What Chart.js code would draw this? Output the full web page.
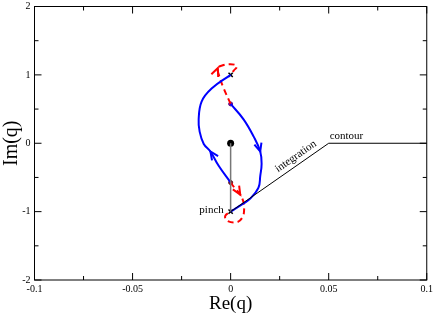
<!DOCTYPE html>
<html>
<head>
<meta charset="utf-8">
<script src="https://cdn.jsdelivr.net/npm/chart.js@4"></script>
<style>html,body{margin:0;padding:0;background:#fff}</style>
</head>
<body>
<canvas id="chart" width="436" height="315"></canvas>
<script>
// Integration contour in the complex q-plane
const contour_re = [0, 0.05, 0.1];
const contour_im = [-1, 0, 0];

// segment joining the origin and the pinch point
const stem_re = [0, 0];
const stem_im = [0, -1];

// blue trajectories (in the direction of travel)
const blueL_re = [0, -0.0061, -0.0103, -0.0137, -0.0158, -0.0163, -0.0148, -0.0097, 0];
const blueL_im = [-0.575, -0.33, -0.12, -0.01, 0.17, 0.35, 0.61, 0.80, 1.0];
const blueR_re = [0, 0.0066, 0.0117, 0.0151, 0.0158, 0.0151, 0.0142, 0.0100, 0.0066, 0];
const blueR_im = [0.575, 0.35, 0.10, -0.12, -0.30, -0.48, -0.65, -0.81, -0.88, -1.0];

// red dashed loops
const redU_re = [0, -0.0035, -0.006, -0.0065, -0.004, -0.0015, 0.002, 0.0032, 0.0015, 0];
const redU_im = [0.575, 0.80, 1.0, 1.10, 1.14, 1.155, 1.15, 1.12, 1.06, 1.0];
const redD_re = [0, 0.0025, 0.0049, 0.0066, 0.0069, 0.0061, 0.0031, -0.002, -0.0027, 0];
const redD_im = [-0.575, -0.67, -0.75, -0.865, -0.96, -1.08, -1.155, -1.13, -1.06, -1.0];

// arrow heads: point index on each curve
const arrow_at = {blueL: 2, blueR: 3, redU: 3, redD: 2};

// marked points
const dot_re = [0];
const dot_im = [0];
const small_re = [0, 0];
const small_im = [0.575, -0.575];
const cross_re = [0, 0];
const cross_im = [1, -1];

// text notes
const notes = ['pinch', 'integration', 'contour'];
const note_re = [-0.0035, 0.0356, 0.0505];
const note_im = [-1.0, -0.288, 0];

const xTicks = [-0.1, -0.05, 0, 0.05, 0.1];
const yTicks = [-2, -1, 0, 1, 2];

function pts(re, im) {
    return re.map((r, i) => ({x: r, y: im[i]}));
}

function curve(id, re, im, color, dash) {
    return {
        id: id,
        data: pts(re, im),
        showLine: true,
        borderColor: color,
        borderWidth: 2,
        borderDash: dash,
        tension: 0.4,
        pointRadius: 0,
        fill: false
    };
}

const serif = "'Liberation Serif', 'DejaVu Serif', serif";

// frame with inward major/minor ticks on all four sides
const framePlugin = {
    id: 'frame',
    afterDraw(chart) {
        const ctx = chart.ctx, a = chart.chartArea;
        const xs = chart.scales.x, ys = chart.scales.y;
        ctx.save();
        ctx.strokeStyle = '#000';
        ctx.lineWidth = 1;
        ctx.strokeRect(a.left, a.top, a.right - a.left, a.bottom - a.top);
        ctx.beginPath();
        xTicks.forEach((v, i) => {
            const px = xs.getPixelForValue(v);
            ctx.moveTo(px, a.bottom); ctx.lineTo(px, a.bottom - 7);
            ctx.moveTo(px, a.top); ctx.lineTo(px, a.top + 7);
            if (i < xTicks.length - 1) {
                const m = xs.getPixelForValue((v + xTicks[i + 1]) / 2);
                ctx.moveTo(m, a.bottom); ctx.lineTo(m, a.bottom - 4);
                ctx.moveTo(m, a.top); ctx.lineTo(m, a.top + 4);
            }
        });
        yTicks.forEach((v, i) => {
            const py = ys.getPixelForValue(v);
            ctx.moveTo(a.left, py); ctx.lineTo(a.left + 7, py);
            ctx.moveTo(a.right, py); ctx.lineTo(a.right - 7, py);
            if (i < yTicks.length - 1) {
                const m = ys.getPixelForValue((v + yTicks[i + 1]) / 2);
                ctx.moveTo(a.left, m); ctx.lineTo(a.left + 4, m);
                ctx.moveTo(a.right, m); ctx.lineTo(a.right - 4, m);
            }
        });
        ctx.stroke();
        ctx.restore();
    }
};

// open arrow heads along the curves, and text notes
const markPlugin = {
    id: 'marks',
    afterDatasetsDraw(chart) {
        const ctx = chart.ctx;
        const xs = chart.scales.x, ys = chart.scales.y;
        ctx.save();
        chart.data.datasets.forEach((ds, di) => {
            if (!(ds.id in arrow_at)) return;
            const els = chart.getDatasetMeta(di).data;
            const k = arrow_at[ds.id];
            const p = els[k], a = els[k - 1], b = els[k + 1];
            const ang = Math.atan2(b.y - a.y, b.x - a.x);
            const L = 9, w = 0.42;
            ctx.strokeStyle = ds.borderColor;
            ctx.lineWidth = 2;
            ctx.setLineDash([]);
            ctx.beginPath();
            ctx.moveTo(p.x - L * Math.cos(ang - w), p.y - L * Math.sin(ang - w));
            ctx.lineTo(p.x, p.y);
            ctx.lineTo(p.x - L * Math.cos(ang + w), p.y - L * Math.sin(ang + w));
            ctx.stroke();
        });

        ctx.fillStyle = '#000';
        ctx.font = '11px ' + serif;
        // pinch
        ctx.textAlign = 'right';
        ctx.textBaseline = 'alphabetic';
        ctx.fillText(notes[0], xs.getPixelForValue(note_re[0]), ys.getPixelForValue(note_im[0]) + 1);
        // integration, along the sloped part of the contour
        const c = chart.getDatasetMeta(0).data;
        const slope = Math.atan2(c[1].y - c[0].y, c[1].x - c[0].x);
        ctx.save();
        ctx.translate(xs.getPixelForValue(note_re[1]), ys.getPixelForValue(note_im[1]));
        ctx.rotate(slope);
        ctx.textAlign = 'center';
        ctx.fillText(notes[1], 0, -5);
        ctx.restore();
        // contour
        ctx.textAlign = 'left';
        ctx.fillText(notes[2], xs.getPixelForValue(note_re[2]), ys.getPixelForValue(note_im[2]) - 4);
        ctx.restore();
    }
};

const config = {
    type: 'scatter',
    data: {
        datasets: [
            {
                id: 'contour', data: pts(contour_re, contour_im), showLine: true,
                borderColor: '#000', borderWidth: 1, pointRadius: 0, tension: 0
            },
            {
                id: 'stem', data: pts(stem_re, stem_im), showLine: true,
                borderColor: '#777', borderWidth: 1.5, pointRadius: 0, tension: 0
            },
            curve('blueL', blueL_re, blueL_im, '#0000ff', []),
            curve('blueR', blueR_re, blueR_im, '#0000ff', []),
            curve('redU', redU_re, redU_im, '#ff0000', [6, 4]),
            curve('redD', redD_re, redD_im, '#ff0000', [6, 4]),
            {
                id: 'dot', data: pts(dot_re, dot_im), pointRadius: 3.5,
                backgroundColor: '#000', borderColor: '#000', borderWidth: 0
            },
            {
                id: 'small', data: pts(small_re, small_im), pointRadius: 2,
                backgroundColor: ['#7a1fa0', '#7a2020'], borderColor: ['#5a0a80', '#601010'], borderWidth: 1
            },
            {
                id: 'cross', data: pts(cross_re, cross_im), pointStyle: 'crossRot', pointRadius: 3,
                borderColor: '#000', borderWidth: 1.5
            }
        ]
    },
    options: {
        responsive: false,
        animation: false,
        layout: {padding: {top: 0, right: 5, left: 0, bottom: 0}},
        plugins: {legend: {display: false}, tooltip: {enabled: false}},
        scales: {
            x: {
                type: 'linear', min: -0.1, max: 0.1,
                afterBuildTicks: s => { s.ticks = xTicks.map(v => ({value: v})); },
                afterFit: s => { s.height = 35; },
                grid: {display: false, drawTicks: false},
                border: {display: false},
                ticks: {
                    color: '#000', padding: 3,
                    font: {family: serif, size: 10},
                    callback: v => String(Number(v.toFixed(3)))
                },
                title: {display: true, text: 'Re(q)', color: '#000', padding: 0, font: {family: serif, size: 19}}
            },
            y: {
                type: 'linear', min: -2, max: 2,
                afterBuildTicks: s => { s.ticks = yTicks.map(v => ({value: v})); },
                afterFit: s => { s.width = 34.5; },
                grid: {display: false, drawTicks: false},
                border: {display: false},
                ticks: {
                    color: '#000', padding: 4,
                    font: {family: serif, size: 10, lineHeight: 0.5}
                },
                title: {display: true, text: 'Im(q)', color: '#000', padding: 0, font: {family: serif, size: 20}}
            }
        }
    },
    plugins: [framePlugin, markPlugin]
};

const myChart = new Chart(document.getElementById('chart'), config);
</script>
</body>
</html>
